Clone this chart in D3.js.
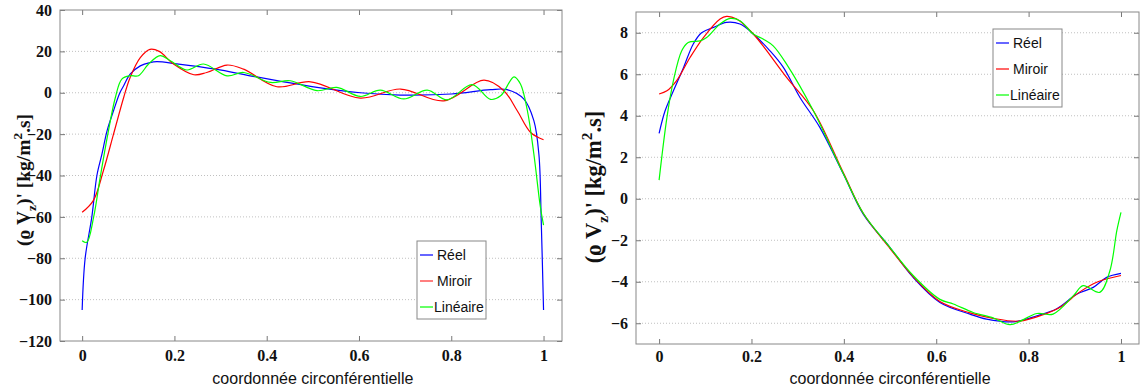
<!DOCTYPE html>
<html>
<head>
<meta charset="utf-8">
<script src="https://d3js.org/d3.v7.min.js"></script>
<style>
  body { margin: 0; background: #fff; }
</style>
</head>
<body>
<div id="chart"></div>
<script>
// x ticks shared by both panels
var xTicks = [0, 0.2, 0.4, 0.6, 0.8, 1]
var xTickLabels = ["0", "0.2", "0.4", "0.6", "0.8", "1"]
var seriesNames = ["Réel", "Miroir", "Linéaire"]
var seriesColors = ["#0000ff", "#ff0000", "#00ff00"]

// left panel [t, value]
var leftYTicks = [-120, -100, -80, -60, -40, -20, 0, 20, 40]
var leftReel = [[0, -105], [0.0065, -80], [0.021, -60], [0.032, -40], [0.043, -29.6], [0.054, -18.4],
    [0.068, -8.7], [0.082, 0.1], [0.09, 3.4], [0.104, 9], [0.126, 13], [0.147, 14.6], [0.162, 15],
    [0.205, 14], [0.29, 11.4], [0.364, 8.2], [0.437, 5.3], [0.509, 2.6], [0.603, 0], [0.69, -1.1],
    [0.8, -0.6], [0.885, 1.5], [0.921, 1.5], [0.957, -3], [0.979, -13.5], [0.99, -30], [0.995, -62],
    [1, -105]]
var leftMiroir = [[0, -57.8], [0.0245, -52], [0.046, -37.7], [0.068, -20], [0.09, -2.3], [0.104, 7.4],
    [0.126, 17], [0.147, 21], [0.167, 20], [0.198, 13.9], [0.242, 8.7], [0.27, 9.8], [0.314, 13.4],
    [0.35, 11.4], [0.422, 2.9], [0.495, 5.3], [0.603, -2.6], [0.69, 1.8], [0.784, -3.9], [0.871, 6.1],
    [0.914, 1], [0.943, -8.7], [0.972, -19.2], [1, -22.7]]
var leftLineaire = [[0, -71.5], [0.01, -72.3], [0.025, -60], [0.039, -41], [0.057, -18.4], [0.072, -2.3],
    [0.086, 6.6], [0.104, 8.2], [0.122, 8.2], [0.144, 13.9], [0.169, 17.9], [0.191, 15.5], [0.227, 11],
    [0.263, 13.9], [0.314, 8.2], [0.35, 9.8], [0.408, 5], [0.451, 5.8], [0.509, 1], [0.552, 2.6],
    [0.603, -1.8], [0.646, 1.3], [0.697, -3], [0.748, 1.3], [0.791, -3.4], [0.845, 3.9], [0.885, -3.2],
    [0.907, -1.5], [0.936, 7.7], [0.95, 4.2], [0.965, -8.7], [0.979, -29.6], [0.993, -55], [1, -64]]

// right panel [t, value]
var rightYTicks = [-6, -4, -2, 0, 2, 4, 6, 8]
var rightReel = [[0, 3.15], [0.013, 4.24], [0.031, 5.2], [0.053, 6.33], [0.074, 7.46], [0.092, 8.0],
    [0.118, 8.26], [0.146, 8.5], [0.175, 8.42], [0.204, 7.94], [0.24, 7.13], [0.269, 6.33], [0.305, 4.88],
    [0.348, 3.44], [0.399, 1.19], [0.442, -0.74], [0.5, -2.35], [0.55, -3.79], [0.608, -5.0],
    [0.673, -5.56], [0.709, -5.8], [0.767, -5.93], [0.818, -5.64], [0.861, -5.3], [0.904, -4.6],
    [0.94, -4.27], [0.969, -3.79], [1, -3.6]]
var rightMiroir = [[0, 5.05], [0.017, 5.2], [0.038, 5.69], [0.067, 6.81], [0.096, 7.77], [0.132, 8.66],
    [0.146, 8.79], [0.168, 8.66], [0.204, 7.94], [0.276, 5.85], [0.334, 4.24], [0.399, 1.25],
    [0.442, -0.7], [0.5, -2.4], [0.55, -3.75], [0.608, -4.95], [0.673, -5.5], [0.72, -5.75],
    [0.78, -5.9], [0.83, -5.6], [0.87, -5.2], [0.91, -4.5], [0.95, -4.0], [1, -3.7]]
var rightLineaire = [[0, 0.9], [0.017, 3.92], [0.031, 5.69], [0.049, 7.13], [0.063, 7.53], [0.089, 7.61],
    [0.103, 7.77], [0.132, 8.42], [0.154, 8.69], [0.175, 8.58], [0.204, 7.94], [0.226, 7.69],
    [0.247, 7.37], [0.276, 6.49], [0.334, 4.24], [0.399, 1.2], [0.442, -0.7], [0.5, -2.35],
    [0.55, -3.7], [0.608, -4.85], [0.637, -5.07], [0.68, -5.48], [0.724, -5.75], [0.76, -6.07],
    [0.818, -5.53], [0.853, -5.56], [0.897, -4.67], [0.918, -4.19], [0.954, -4.51], [0.976, -3.47],
    [0.991, -1.54], [1, -0.66]]

var svg = d3.select("#chart").append("svg")
    .attr("width", 1140)
    .attr("height", 389)

drawPanel({
    box: { left: 60, top: 10, right: 562, bottom: 341 },
    xDomain: [-0.048, 1.04],
    yDomain: [-120, 40],
    yTicks: leftYTicks,
    series: [leftReel, leftMiroir, leftLineaire],
    legend: { x: 417, y: 241, w: 69, h: 78 },
    legendFirst: true,
    xPad: 9,
    yLabelX: 30,
    yLabelY: 180,
    yLabelSize: 19.5
})

drawPanel({
    box: { left: 636, top: 12, right: 1139, bottom: 344 },
    xDomain: [-0.05, 1.039],
    yDomain: [-7, 9],
    yTicks: rightYTicks,
    series: [rightReel, rightMiroir, rightLineaire],
    legend: { x: 993, y: 29, w: 69, h: 78 },
    xPad: 7,
    yLabelX: 601,
    yLabelY: 187,
    yLabelSize: 22.5
})

function drawPanel(cfg) {
    var b = cfg.box
    var x = d3.scaleLinear().domain(cfg.xDomain).range([b.left, b.right])
    var y = d3.scaleLinear().domain(cfg.yDomain).range([b.bottom, b.top])
    var g = svg.append("g")

    // horizontal dotted grid
    g.selectAll("line.grid")
        .data(cfg.yTicks.filter(function(d) { return y(d) > b.top + 1 && y(d) < b.bottom - 1 }))
        .enter().append("line")
        .attr("class", "grid")
        .attr("x1", b.left).attr("x2", b.right)
        .attr("y1", function(d) { return y(d) }).attr("y2", function(d) { return y(d) })
        .attr("stroke", "#b0b0b0")
        .attr("stroke-width", 0.8)
        .attr("stroke-dasharray", "1,2")

    // axes, ticks pointing inward
    var bottomAxis = g.append("g")
        .attr("transform", "translate(0," + b.bottom + ")")
        .call(d3.axisBottom(x).tickValues(xTicks).tickSizeInner(-5).tickSizeOuter(0).tickPadding(cfg.xPad)
            .tickFormat(function(d, i) { return xTickLabels[i] }))
    var topAxis = g.append("g")
        .attr("transform", "translate(0," + b.top + ")")
        .call(d3.axisTop(x).tickValues(xTicks).tickSizeInner(-5).tickSizeOuter(0).tickFormat(""))
    var leftAxis = g.append("g")
        .attr("transform", "translate(" + b.left + ",0)")
        .call(d3.axisLeft(y).tickValues(cfg.yTicks).tickSizeInner(-5).tickSizeOuter(0).tickPadding(8)
            .tickFormat(d3.format("d")))
    var rightAxis = g.append("g")
        .attr("transform", "translate(" + b.right + ",0)")
        .call(d3.axisRight(y).tickValues(cfg.yTicks).tickSizeInner(-5).tickSizeOuter(0).tickFormat(""))

    ;[bottomAxis, topAxis, leftAxis, rightAxis].forEach(function(a) {
        a.select(".domain").remove()
        a.selectAll(".tick line").attr("stroke", "#777")
        a.selectAll(".tick text")
            .attr("fill", "#111")
            .style("font-family", "'Liberation Serif', 'DejaVu Serif', serif")
            .style("font-size", "16px")
            .style("font-weight", "bold")
    })

    // frame
    g.append("rect")
        .attr("x", b.left).attr("y", b.top)
        .attr("width", b.right - b.left).attr("height", b.bottom - b.top)
        .attr("fill", "none")
        .attr("stroke", "#888")
        .attr("stroke-width", 1)

    // curves
    var line = d3.line()
        .curve(d3.curveCatmullRom.alpha(0.5))
        .x(function(d) { return x(d[0]) })
        .y(function(d) { return y(d[1]) })

    var clipId = "clip" + b.left
    g.append("clipPath").attr("id", clipId).append("rect")
        .attr("x", b.left).attr("y", b.top)
        .attr("width", b.right - b.left).attr("height", b.bottom - b.top)

    g.append("g").attr("clip-path", "url(#" + clipId + ")")
        .selectAll("path")
        .data(cfg.series)
        .enter().append("path")
        .attr("d", line)
        .attr("fill", "none")
        .attr("stroke", function(d, i) { return seriesColors[i] })
        .attr("stroke-width", 1.2)

    // legend
    var L = cfg.legend
    var lg = g.append("g")
    lg.append("rect")
        .attr("x", L.x).attr("y", L.y).attr("width", L.w).attr("height", L.h)
        .attr("fill", "#fff").attr("stroke", "#888")
    seriesNames.forEach(function(name, i) {
        var yy = L.y + 14 + i * 26
        lg.append("line")
            .attr("x1", L.x + 3).attr("x2", L.x + 16)
            .attr("y1", yy).attr("y2", yy)
            .attr("stroke", seriesColors[i])
            .attr("stroke-opacity", (cfg.legendFirst && i == 1) ? 0.5 : 1)
            .attr("stroke-width", (cfg.legendFirst && i == 1) ? 2 : 1.2)
        lg.append("text")
            .attr("x", L.x + (i == 2 ? 17 : 20))
            .attr("y", yy + 5)
            .attr("font-family", "Liberation Sans, Arial, sans-serif")
            .attr("font-size", 14)
            .attr("fill", "#111")
            .text(name)
    })

    // x label
    g.append("text")
        .attr("x", (x(0) + x(1)) / 2)
        .attr("y", 384)
        .attr("text-anchor", "middle")
        .attr("font-family", "Liberation Sans, Arial, sans-serif")
        .attr("font-size", 16)
        .attr("fill", "#111")
        .text("coordonnée circonférentielle")

    // y label
    var s = cfg.yLabelSize
    var yl = g.append("text")
        .attr("transform", "translate(" + cfg.yLabelX + "," + cfg.yLabelY + ") rotate(-90)")
        .attr("text-anchor", "middle")
        .attr("font-family", "Liberation Serif, serif")
        .attr("font-weight", "bold")
        .attr("font-size", s)
        .attr("fill", "#111")
    yl.append("tspan").text("(ϱ V")
    yl.append("tspan").attr("font-size", s * 0.68).attr("dy", s * 0.3).text("z")
    yl.append("tspan").attr("dy", -s * 0.3).text(")' [kg/m")
    yl.append("tspan").attr("font-size", s * 0.68).attr("dy", -s * 0.42).text("2")
    yl.append("tspan").attr("dy", s * 0.42).text(".s]")
}
</script>
</body>
</html>
